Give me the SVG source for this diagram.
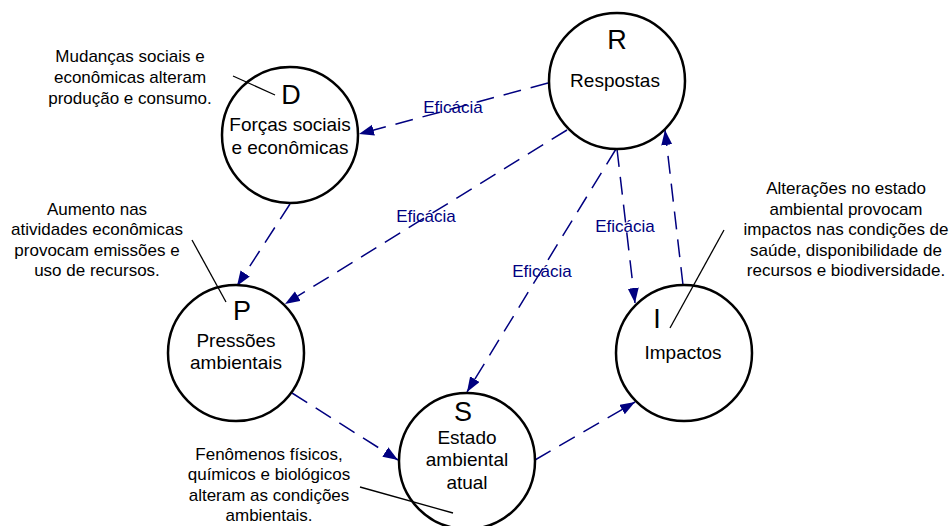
<svg xmlns="http://www.w3.org/2000/svg" width="951" height="526" viewBox="0 0 951 526">
  <style>
    .node circle { fill: #ffffff; stroke: #000000; stroke-width: 2.5; }
    .letter { font-family: "Liberation Sans", Arial, sans-serif; font-size: 27px; fill: #000000; text-anchor: middle; }
    .name { font-family: "Liberation Sans", Arial, sans-serif; font-size: 19px; fill: #000000; text-anchor: middle; }
    .note { font-family: "Liberation Sans", Arial, sans-serif; font-size: 17px; fill: #000000; text-anchor: middle; }
    .leader { stroke: #000000; stroke-width: 1.3; fill: none; }
    .flow { stroke: #000080; stroke-width: 1.5; fill: none; stroke-dasharray: 18 10; marker-end: url(#arrow); }
    .label { font-family: "Liberation Sans", Arial, sans-serif; font-size: 17px; fill: #000080; text-anchor: middle; }
  </style>
  <defs>
    <marker id="arrow" markerUnits="userSpaceOnUse" markerWidth="16" markerHeight="12" refX="15" refY="5.5" orient="auto">
      <path d="M0,0 L15,5.5 L0,11 Z" fill="#000080"/>
    </marker>
  </defs>

  <rect width="951" height="526" fill="#ffffff"/>

  <!-- connectors -->
  <g id="connectors">
    <line class="flow" x1="548" y1="83" x2="359" y2="134"/>
    <line class="flow" x1="567" y1="130" x2="285" y2="304"/>
    <line class="flow" x1="616" y1="149" x2="467" y2="392"/>
    <line class="flow" x1="617" y1="149" x2="635" y2="303"/>
    <line class="flow" x1="683" y1="285" x2="665" y2="130"/>
    <line class="flow" x1="290" y1="204" x2="237" y2="286"/>
    <line class="flow" x1="292" y1="393" x2="398" y2="460"/>
    <line class="flow" x1="535" y1="460" x2="635" y2="402"/>
    <text class="label" x="453" y="113">Eficácia</text>
    <text class="label" x="426" y="222">Eficácia</text>
    <text class="label" x="542" y="277">Eficácia</text>
    <text class="label" x="625" y="232">Eficácia</text>
  </g>

  <!-- D: driving forces -->
  <g id="node-d" class="node">
    <circle cx="290" cy="135" r="68"/>
    <text class="letter" x="291" y="104">D</text>
    <text class="name" x="290" y="131">Forças sociais</text>
    <text class="name" x="290" y="154">e econômicas</text>
  </g>

  <!-- R: responses -->
  <g id="node-r" class="node">
    <circle cx="617" cy="81" r="68"/>
    <text class="letter" x="617" y="49">R</text>
    <text class="name" x="615" y="87">Respostas</text>
  </g>

  <!-- P: pressures -->
  <g id="node-p" class="node">
    <circle cx="236" cy="353" r="68"/>
    <text class="letter" x="242" y="320">P</text>
    <text class="name" x="236" y="347">Pressões</text>
    <text class="name" x="236" y="369">ambientais</text>
  </g>

  <!-- S: state -->
  <g id="node-s" class="node">
    <circle cx="467" cy="461" r="68"/>
    <text class="letter" x="463" y="421">S</text>
    <text class="name" x="467" y="444">Estado</text>
    <text class="name" x="467" y="466">ambiental</text>
    <text class="name" x="467" y="489">atual</text>
  </g>

  <!-- I: impacts -->
  <g id="node-i" class="node">
    <circle cx="684" cy="353" r="68"/>
    <text class="letter" x="657" y="328">I</text>
    <text class="name" x="683" y="359">Impactos</text>
  </g>

  <!-- annotations with leader lines -->
  <g id="note-d">
    <text class="note" x="130" y="62">Mudanças sociais e</text>
    <text class="note" x="130" y="83">econômicas alteram</text>
    <text class="note" x="130" y="104">produção e consumo.</text>
    <line class="leader" x1="233" y1="76" x2="275" y2="95"/>
  </g>

  <g id="note-p">
    <text class="note" x="97" y="215">Aumento nas</text>
    <text class="note" x="97" y="235">atividades econômicas</text>
    <text class="note" x="97" y="256">provocam emissões e</text>
    <text class="note" x="97" y="276">uso de recursos.</text>
    <line class="leader" x1="192" y1="240" x2="226" y2="302"/>
  </g>

  <g id="note-i">
    <text class="note" x="846" y="194">Alterações no estado</text>
    <text class="note" x="846" y="215">ambiental provocam</text>
    <text class="note" x="846" y="235">impactos nas condições de</text>
    <text class="note" x="846" y="256">saúde, disponibilidade de</text>
    <text class="note" x="846" y="276">recursos e biodiversidade.</text>
    <line class="leader" x1="724" y1="230" x2="670" y2="328"/>
  </g>

  <g id="note-s">
    <text class="note" x="269" y="460">Fenômenos físicos,</text>
    <text class="note" x="269" y="480">químicos e biológicos</text>
    <text class="note" x="269" y="501">alteram as condições</text>
    <text class="note" x="269" y="521">ambientais.</text>
    <line class="leader" x1="360" y1="487" x2="453" y2="513"/>
  </g>
</svg>
